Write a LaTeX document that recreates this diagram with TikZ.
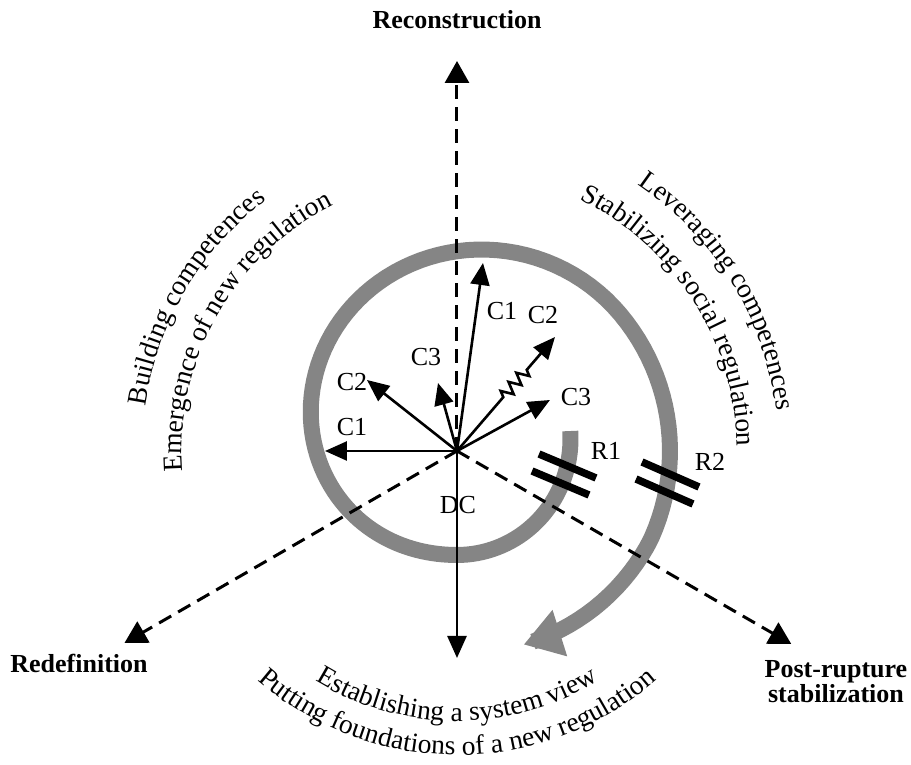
\documentclass[tikz,border=0pt]{standalone}
\usepackage{fontspec}
\setmainfont{Liberation Serif}
\usetikzlibrary{arrows.meta,decorations.text,decorations.pathmorphing}

\newcommand\arcfont{\fontsize{27.5}{30}\selectfont}

\begin{document}
\begin{tikzpicture}[x=1pt, y=1pt, font=\fontsize{26}{30}\selectfont,
  >={Triangle[length=22pt, width=19pt]},
  declare function={
    sr(\t) = \t<100 ? 104+11*(1-\t/100)^2 :
      (\t<330 ? 104+109*(3*((\t-100)/230)^2-2*((\t-100)/230)^3) :
      (\t<395 ? 213 : 213-0.18*(\t-395)));},
  axis/.style={dash pattern=on 14pt off 8pt, line width=3pt,
    -{Triangle[length=22pt, width=24pt]}},
  vec/.style={->, line width=2.6pt},
  pole/.style={font=\fontsize{26}{25}\selectfont\bfseries, align=center},
  band/.style={line width=16pt, draw=black!48},
  cut/.style={line width=7.5pt}]
  \useasboundingbox (-457,-314) rectangle (454,451);
  % spiral of competences
  \draw[band, -{Triangle[length=38pt, width=46pt]}]
    plot[domain=0:441, samples=160, variable=\t] ({sr(\t)*cos(10-\t)}, {sr(\t)*sin(10-\t)});
  % ruptures
  \draw[cut] (82,-3) -- (139,-27);
  \draw[cut] (75,-20) -- (132,-44);
  \draw[cut] (185,-11) -- (242,-36);
  \draw[cut] (179,-28) -- (236,-53);
  \node (lr1) at (149,0) {R1};
  \node (lr2) at (253,-11) {R2};
  % axes
  \coordinate (o) at (0,0);
  \coordinate (top) at (90:390);
  \coordinate (lft) at (210:384);
  \coordinate (rgt) at (330:386);
  \draw[axis] (o) -- (top);
  \draw[axis] (o) -- (lft);
  \draw[axis] (o) -- (rgt);
  \node[pole] (recon) at (0,431) {Reconstruction};
  \node[pole] (redef) at (-378,-212) {Redefinition};
  \node[pole] (post) at (379,-231) {Post-rupture\\stabilization};
  % competences
  \coordinate (dcend) at (0,-207);
  \coordinate (c1l) at (-132,0);
  \coordinate (c2l) at (-90,71);
  \coordinate (c3u) at (-19,68);
  \coordinate (c1u) at (26,188);
  \coordinate (c2z) at (98,114);
  \coordinate (c3r) at (93,51);
  \draw[vec] (o) -- (dcend);
  \draw[vec] (o) -- (c1l);
  \draw[vec] (o) -- (c2l);
  \draw[vec] (o) -- (c3u);
  \draw[vec] (o) -- (c1u);
  \draw[vec, decorate, decoration={zigzag, amplitude=6pt, segment length=12pt,
    pre length=71pt, post length=38pt}] (o) -- (c2z);
  \draw[vec] (o) -- (c3r);
  \node (ldc) at (1,-54) {DC};
  \node (lc1l) at (-105,24) {C1};
  \node (lc2l) at (-105,69) {C2};
  \node (lc3u) at (-31,94) {C3};
  \node (lc1u) at (45,140) {C1};
  \node (lc2z) at (86,136) {C2};
  \node (lc3r) at (119,54) {C3};
  % phases
  \path[decorate, decoration={text along path, text align=center,
    text={|\arcfont|Building competences}}]
    (209.5:315) arc[start angle=209.5, end angle=89.5, radius=315pt];
  \path[decorate, decoration={text along path, text align=center,
    text={|\arcfont|Emergence of new regulation}}]
    (210.5:275) arc[start angle=210.5, end angle=90.5, radius=275pt];
  \path[decorate, decoration={text along path, text align=center,
    text={|\arcfont|Leveraging competences}}]
    (91.5:322) arc[start angle=91.5, end angle=-28.5, radius=322pt];
  \path[decorate, decoration={text along path, text align=center,
    text={|\arcfont|Stabilizing social regulation}}]
    (92.5:280) arc[start angle=92.5, end angle=-27.5, radius=280pt];
  \path[decorate, decoration={text along path, text align=center,
    text={|\arcfont|Establishing a system view}}]
    (-150:270) arc[start angle=-150, end angle=-30, radius=270pt];
  \path[decorate, decoration={text along path, text align=center,
    text={|\arcfont|Putting foundations of a new regulation}}]
    (-150:304) arc[start angle=-150, end angle=-30, radius=304pt];
\end{tikzpicture}
\end{document}
